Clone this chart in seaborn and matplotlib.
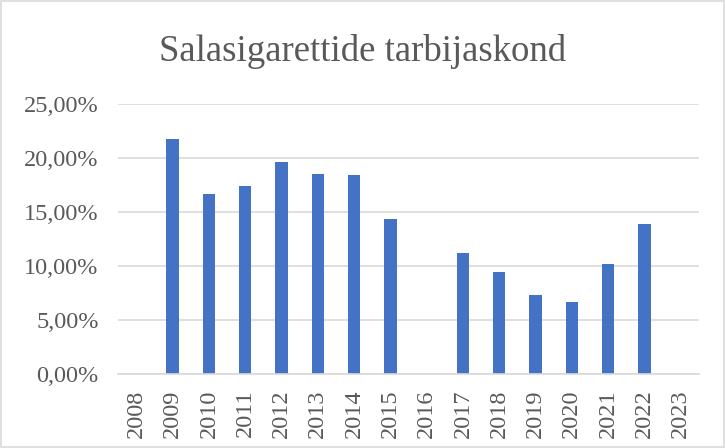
import matplotlib
matplotlib.use("Agg")
import matplotlib.pyplot as plt
import seaborn as sns
import pandas as pd
import numpy as np
from matplotlib.ticker import FuncFormatter, MultipleLocator

# Data (percent)
years = [str(y) for y in range(2008, 2024)]
shares = [np.nan, 21.76, 16.69, 17.46, 19.66, 18.58, 18.45, 14.38,
          np.nan, 11.23, 9.44, 7.31, 6.67, 10.24, 13.94, np.nan]
title = "Salasigarettide tarbijaskond"

df = pd.DataFrame({"year": years, "share": shares})

sns.set_theme(style="white")
plt.rcParams["font.family"] = ["Liberation Serif", "DejaVu Serif"]

fig = plt.figure(figsize=(7.25, 4.48), dpi=100)
ax = fig.add_axes([0.163, 0.1645, 0.801, 0.6025])

sns.barplot(data=df, x="year", y="share", order=years, color="#4472C4",
            saturation=1, width=0.34, linewidth=0, ax=ax)

ax.set_ylim(0, 25)
ax.set_xlim(-0.5, len(years) - 0.5)
ax.yaxis.set_major_locator(MultipleLocator(5))
ax.yaxis.set_major_formatter(FuncFormatter(lambda v, p: f"{v:.2f}%".replace(".", ",")))
ax.grid(axis="y", color="#d9d9d9", linewidth=1.2)
ax.set_axisbelow(True)
for s in ["top", "right", "left"]:
    ax.spines[s].set_visible(False)
ax.spines["bottom"].set_color("#d9d9d9")
ax.spines["bottom"].set_linewidth(1.2)
ax.tick_params(axis="both", length=0, colors="#595959")
ax.tick_params(axis="y", labelsize=17.5, pad=14)
ax.tick_params(axis="x", labelsize=17.5, rotation=90, pad=11)
ax.set_xlabel("")
ax.set_ylabel("")

fig.text(0.5, 0.885, title, ha="center", va="center", fontsize=26.5, color="#595959")

# Chart area border
fig.patches.append(plt.Rectangle((0.002, 0.002), 0.996, 0.996, transform=fig.transFigure,
                                 fill=False, edgecolor="#d9d9d9", linewidth=1.2))

fig.savefig("out.png", dpi=100)
